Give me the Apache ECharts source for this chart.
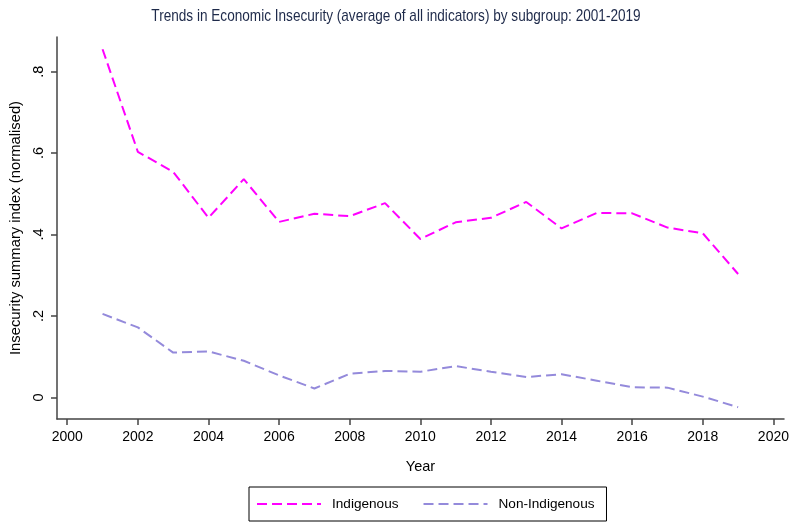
<!DOCTYPE html>
<html>
<head>
<meta charset="utf-8">
<script src="https://cdn.jsdelivr.net/npm/echarts@6/dist/echarts.min.js"></script>
<style>
  html, body { margin: 0; padding: 0; background: #fff; }
  #chart { width: 792px; height: 526px; }
</style>
</head>
<body>
<div id="chart"></div>
<script>
// Survey years and the normalised insecurity index for each subgroup
const years = [2001, 2002, 2003, 2004, 2005, 2006, 2007, 2008, 2009, 2010,
               2011, 2012, 2013, 2014, 2015, 2016, 2017, 2018, 2019];
const indigenous = [0.855, 0.603, 0.554, 0.441, 0.536, 0.431, 0.451, 0.445, 0.477, 0.389,
                    0.430, 0.441, 0.480, 0.415, 0.453, 0.452, 0.417, 0.403, 0.303];
const nonIndigenous = [0.205, 0.172, 0.110, 0.113, 0.090, 0.054, 0.022, 0.058, 0.065, 0.063,
                       0.077, 0.063, 0.050, 0.057, 0.041, 0.025, 0.024, 0.002, -0.024];

// Axis tick positions
const xTicks = [2000, 2002, 2004, 2006, 2008, 2010, 2012, 2014, 2016, 2018, 2020];
const yTicks = [0, 0.2, 0.4, 0.6, 0.8];

const TITLE = 'Trends in Economic Insecurity (average of all indicators) by subgroup: 2001-2019';

const FONT = "'Liberation Sans Narrow', 'Arial Narrow', 'Liberation Sans', Arial, sans-serif";
const AXIS_COLOR = '#444';

const pairs = arr => years.map((y, i) => [y, arr[i]]);

const chart = echarts.init(document.getElementById('chart'), null, { renderer: 'canvas' });

chart.setOption({
  backgroundColor: '#fff',
  animation: false,
  textStyle: { fontFamily: FONT },
  // Title drawn as a horizontally condensed text element
  graphic: [{
    type: 'text',
    x: 396,
    y: 8,
    scaleX: 0.8,
    silent: true,
    style: {
      text: TITLE,
      fontFamily: FONT,
      fontSize: 17,
      fill: '#1e2a4a',
      align: 'center',
      verticalAlign: 'top'
    }
  }],
  grid: { left: 57, right: 5, top: 37, bottom: 107, containLabel: false },
  xAxis: {
    type: 'value',
    min: 1999.71,
    max: 2020.3,
    name: 'Year',
    nameLocation: 'middle',
    nameGap: 40,
    nameTextStyle: { fontFamily: FONT, fontSize: 14.5, color: '#000' },
    axisLine: { show: true, onZero: false, lineStyle: { color: AXIS_COLOR, width: 1.5 } },
    axisTick: { show: true, length: 6, customValues: xTicks, lineStyle: { color: AXIS_COLOR, width: 1.5 } },
    axisLabel: { customValues: xTicks, margin: 11, fontFamily: FONT, fontSize: 14, color: '#000',
                 formatter: v => String(v) },
    splitLine: { show: false }
  },
  yAxis: {
    type: 'value',
    min: -0.053,
    max: 0.885,
    name: 'Insecurity summary index (normalised)',
    nameLocation: 'middle',
    nameGap: 33,
    nameTextStyle: { fontFamily: FONT, fontSize: 14.8, color: '#000' },
    axisLine: { show: true, onZero: false, lineStyle: { color: AXIS_COLOR, width: 1.5 } },
    axisTick: { show: true, length: 6, customValues: yTicks, lineStyle: { color: AXIS_COLOR, width: 1.5 } },
    axisLabel: {
      customValues: yTicks, rotate: 90, margin: 11, fontFamily: FONT, fontSize: 14.5, color: '#000',
      formatter: v => (v === 0 ? '0' : String(v).replace(/^0\./, '.'))
    },
    splitLine: { show: false }
  },
  legend: {
    left: 249,
    top: 487,
    orient: 'horizontal',
    padding: [10, 12, 10, 7],
    borderColor: '#000',
    borderWidth: 1,
    backgroundColor: '#fff',
    itemWidth: 64,
    itemHeight: 14,
    itemGap: 24,
    itemStyle: { opacity: 0 },
    textStyle: { fontFamily: FONT, fontSize: 13.6, color: '#000', padding: [0, 0, 0, 6] },
    data: ['Indigenous', 'Non-Indigenous']
  },
  series: [
    {
      name: 'Indigenous',
      type: 'line',
      data: pairs(indigenous),
      symbol: 'none',
      lineStyle: { color: '#ff00ff', width: 2, type: [10, 5] },
      itemStyle: { color: '#ff00ff' }
    },
    {
      name: 'Non-Indigenous',
      type: 'line',
      data: pairs(nonIndigenous),
      symbol: 'none',
      lineStyle: { color: '#948adb', width: 2, type: [10, 5] },
      itemStyle: { color: '#948adb' }
    }
  ]
});
</script>
</body>
</html>
